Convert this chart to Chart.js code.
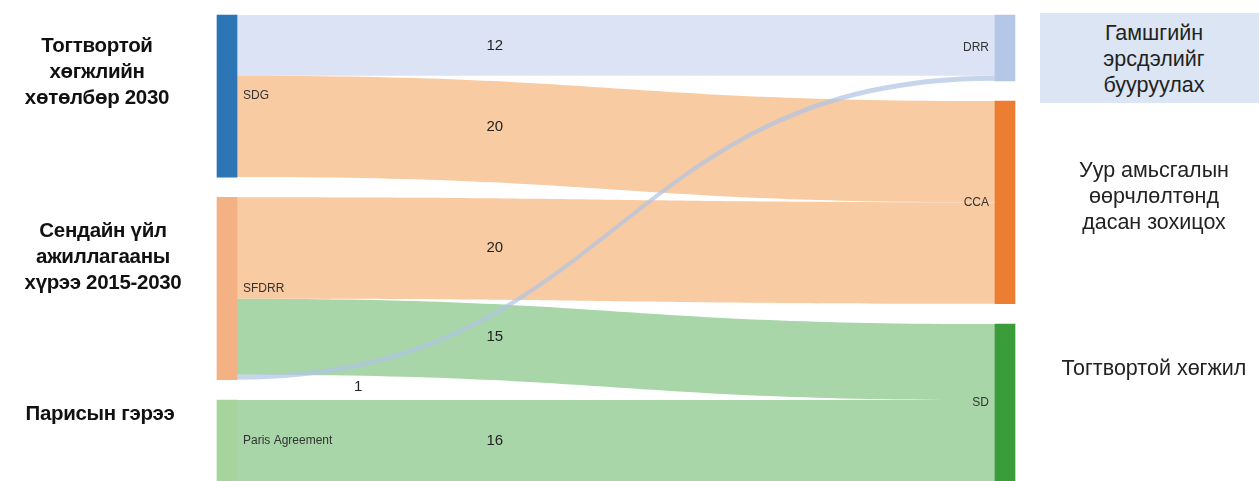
<!DOCTYPE html>
<html>
<head>
<meta charset="utf-8">
<script src="https://cdn.jsdelivr.net/npm/chart.js@4"></script>
<style>
  body { margin:0; background:#fff; }
  #wrap { position:relative; width:1259px; height:481px; overflow:hidden; }
  .lbl { position:absolute; text-align:center; font-family:"Liberation Sans", Arial, sans-serif; color:#111; white-space:nowrap; transform:translateX(-50%); }
  .left { font-weight:bold; font-size:20.5px; line-height:26px; letter-spacing:-0.3px; }
  .right { font-size:21.5px; line-height:26px; color:#222; }
  #box { position:absolute; left:1040px; top:13px; width:219px; height:90px; background:#dce5f3; }
</style>
</head>
<body>
<div id="wrap">
  <div id="box"></div>
  <canvas id="sankey"></canvas>
  <div class="lbl left" style="left:97px; top:32px;">Тогтвортой<br>хөгжлийн<br>хөтөлбөр 2030</div>
  <div class="lbl left" style="left:103px; top:217px;">Сендайн үйл<br>ажиллагааны<br>хүрээ 2015-2030</div>
  <div class="lbl left" style="left:100px; top:400px;">Парисын гэрээ</div>
  <div class="lbl right" style="left:1154px; top:20px;">Гамшгийн<br>эрсдэлийг<br>бууруулах</div>
  <div class="lbl right" style="left:1154px; top:157px;">Уур амьсгалын<br>өөрчлөлтөнд<br>дасан зохицох</div>
  <div class="lbl right" style="left:1154px; top:355px;">Тогтвортой хөгжил</div>
</div>
<script>
// nodes per column
const leftNodes = ['SDG', 'SFDRR', 'Paris Agreement'];
const rightNodes = ['DRR', 'CCA', 'SD'];
// flows (order = stacking order)
const flowFrom = ['SDG', 'SDG', 'SFDRR', 'SFDRR', 'SFDRR', 'Paris Agreement'];
const flowTo = ['DRR', 'CCA', 'CCA', 'SD', 'DRR', 'SD'];
const flowValues = [12, 20, 20, 15, 1, 16];

const nodeColors = {
    'SDG': '#2e75b6', 'SFDRR': '#f4b183', 'Paris Agreement': '#a6d49c',
    'DRR': '#b4c7e7', 'CCA': '#ed7d31', 'SD': '#3a9d3a'
};
const flowColors = { 'DRR': '#dbe3f4', 'CCA': '#f8cba2', 'SD': '#a9d6a9' };
const thinFlowColor = 'rgba(175,195,228,0.7)';
const GAP = 4;

// node sizes + stacking in value units
function sumOf(name, key) {
    let s = 0;
    flowValues.forEach((v, i) => { if ((key === 'from' ? flowFrom[i] : flowTo[i]) === name) s += v; });
    return s;
}
const nodePos = {};
function stackColumn(list) {
    let y = 0;
    list.forEach(n => {
        const size = Math.max(sumOf(n, 'from'), sumOf(n, 'to'));
        nodePos[n] = { start: y, end: y + size, outY: y, inY: y };
        y += size + GAP;
    });
    return y - GAP;
}
const total = Math.max(stackColumn(leftNodes), stackColumn(rightNodes));

// flow band positions
const bands = flowValues.map((v, i) => {
    const s = nodePos[flowFrom[i]], t = nodePos[flowTo[i]];
    const b = { s0: s.outY, s1: s.outY + v, t0: t.inY, t1: t.inY + v };
    s.outY += v; t.inY += v;
    return b;
});

const nodeBars = [];
const barColors = [];
leftNodes.forEach(n => { nodeBars.push({ x: 0, y: [nodePos[n].start, nodePos[n].end] }); barColors.push(nodeColors[n]); });
rightNodes.forEach(n => { nodeBars.push({ x: 1, y: [nodePos[n].start, nodePos[n].end] }); barColors.push(nodeColors[n]); });

const BAR_W = 20;

const sankeyPlugin = {
    id: 'sankeyFlows',
    beforeDatasetsDraw(chart) {
        const { ctx, scales: { x, y } } = chart;
        const x0 = x.getPixelForValue(0) + BAR_W / 2;
        const x1 = x.getPixelForValue(1) - BAR_W / 2;
        const xm = (x0 + x1) / 2;
        ctx.save();
        bands.forEach((b, i) => {
            const ys0 = y.getPixelForValue(b.s0), ys1 = y.getPixelForValue(b.s1);
            const yt0 = y.getPixelForValue(b.t0), yt1 = y.getPixelForValue(b.t1);
            ctx.beginPath();
            ctx.moveTo(x0, ys0);
            ctx.bezierCurveTo(xm, ys0, xm, yt0, x1, yt0);
            ctx.lineTo(x1, yt1);
            ctx.bezierCurveTo(xm, yt1, xm, ys1, x0, ys1);
            ctx.closePath();
            ctx.fillStyle = flowValues[i] < 5 ? thinFlowColor : flowColors[flowTo[i]];
            ctx.fill();
        });
        ctx.restore();
    },
    afterDatasetsDraw(chart) {
        const { ctx, scales: { x, y } } = chart;
        const x0 = x.getPixelForValue(0) + BAR_W / 2;
        const x1 = x.getPixelForValue(1) - BAR_W / 2;
        ctx.save();
        ctx.textBaseline = 'middle';
        // node labels
        ctx.font = '12px "Liberation Sans", Arial, sans-serif';
        ctx.fillStyle = '#333';
        ctx.textAlign = 'left';
        leftNodes.forEach(n => {
            ctx.fillText(n, x0 + 6, y.getPixelForValue((nodePos[n].start + nodePos[n].end) / 2));
        });
        ctx.textAlign = 'right';
        rightNodes.forEach(n => {
            ctx.fillText(n, x1 - 6, y.getPixelForValue((nodePos[n].start + nodePos[n].end) / 2));
        });
        // flow values
        ctx.font = '15px "Liberation Sans", Arial, sans-serif';
        ctx.fillStyle = '#222';
        ctx.textAlign = 'center';
        bands.forEach((b, i) => {
            const small = flowValues[i] < 5;
            const lx = x0 + (x1 - x0) * (small ? 0.16 : 0.34);
            const ly = y.getPixelForValue((b.s0 + b.s1) / 2) + (small ? 10 : 0);
            ctx.fillText(String(flowValues[i]), lx, ly);
        });
        ctx.restore();
    }
};

new Chart(document.getElementById('sankey'), {
    type: 'bar',
    data: {
        datasets: [{
            data: nodeBars,
            backgroundColor: barColors,
            barThickness: BAR_W,
            clip: false
        }]
    },
    options: {
        responsive: true,
        maintainAspectRatio: false,
        animation: false,
        layout: { padding: { left: 227, right: 254, top: 15, bottom: 0 } },
        plugins: { legend: { display: false }, tooltip: { enabled: false } },
        scales: {
            x: { type: 'linear', min: 0, max: 1, display: false, offset: false },
            y: { type: 'linear', min: 0, max: total, reverse: true, display: false }
        }
    },
    plugins: [sankeyPlugin]
});
</script>
</body>
</html>
